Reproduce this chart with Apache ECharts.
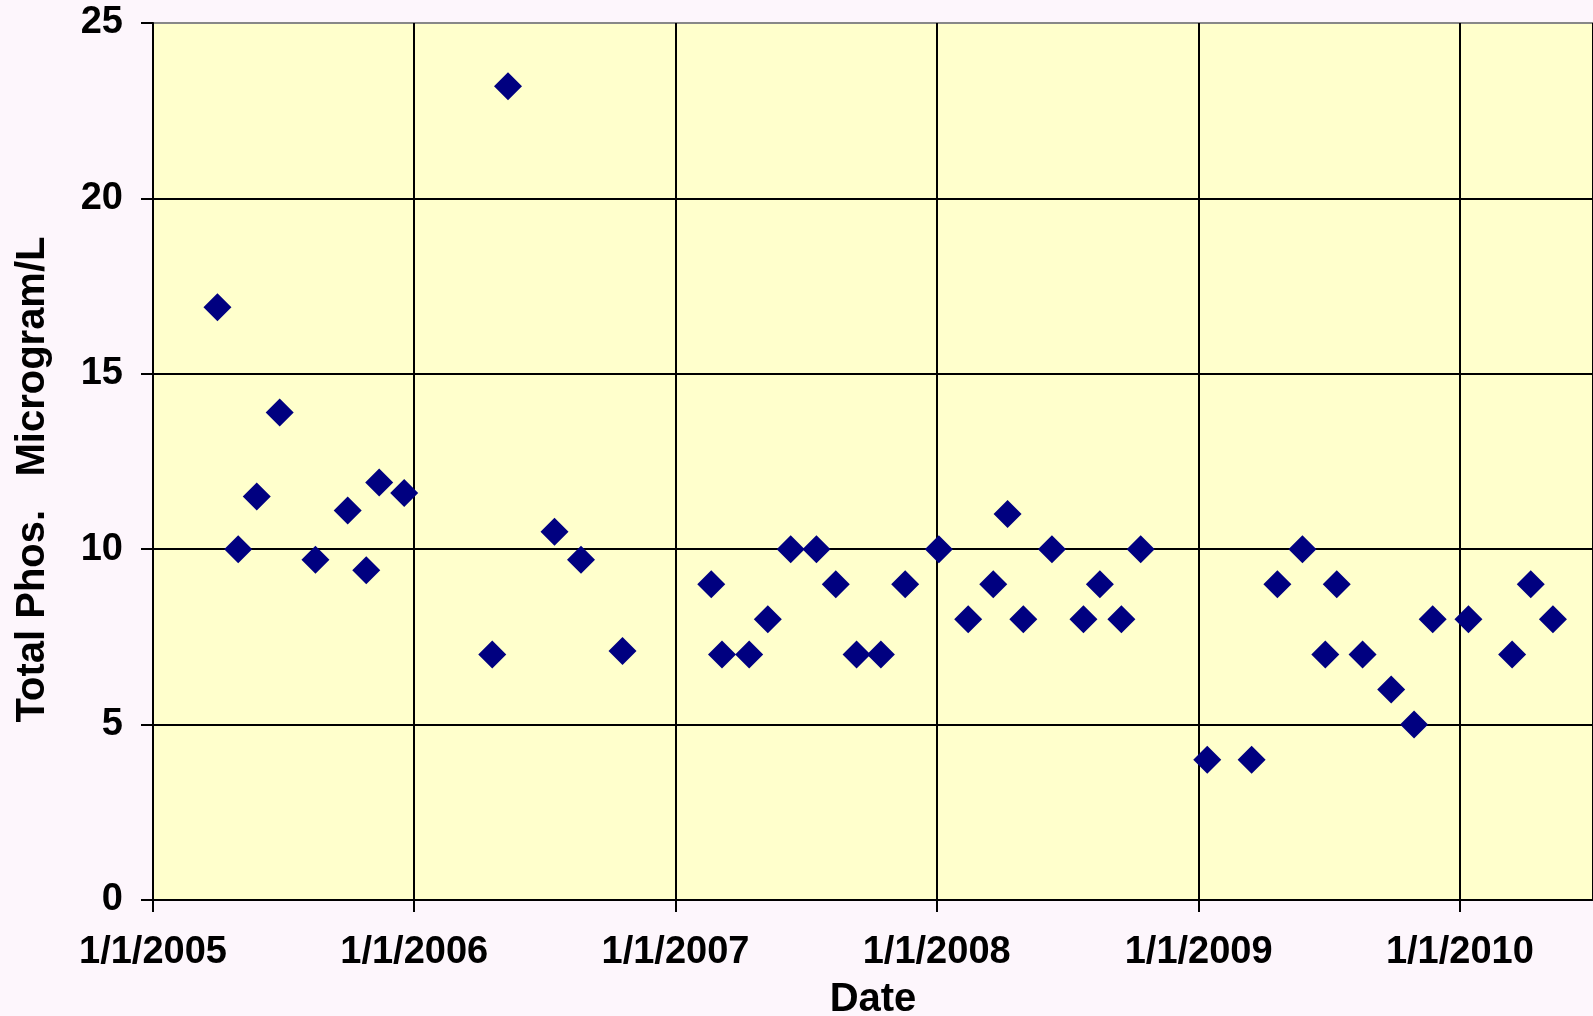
<!DOCTYPE html>
<html>
<head>
<meta charset="utf-8">
<title>Total Phos.</title>
<script src="https://cdn.jsdelivr.net/npm/echarts@6/dist/echarts.min.js"></script>
<style>
  html, body { margin: 0; padding: 0; background: #fdf6fc; }
  #chart { width: 1593px; height: 1016px; }
</style>
</head>
<body>
<div id="chart"></div>
<script>
// sample dates and total phosphorus (microgram/L)
const dates = [
  '2005-04-01', '2005-04-30', '2005-05-26', '2005-06-27', '2005-08-16', '2005-09-30',
  '2005-10-26', '2005-11-13', '2005-12-18',
  '2006-04-20', '2006-05-12', '2006-07-16', '2006-08-22', '2006-10-19',
  '2007-02-20', '2007-03-07', '2007-04-14', '2007-05-10', '2007-06-11', '2007-07-17',
  '2007-08-13', '2007-09-11', '2007-10-15', '2007-11-18',
  '2008-01-04', '2008-02-14', '2008-03-20', '2008-04-09', '2008-05-01', '2008-06-10',
  '2008-07-24', '2008-08-16', '2008-09-15', '2008-10-12',
  '2009-01-13', '2009-03-16', '2009-04-21', '2009-05-26', '2009-06-27', '2009-07-13',
  '2009-08-18', '2009-09-27', '2009-10-29', '2009-11-24',
  '2010-01-13', '2010-03-15', '2010-04-10', '2010-05-11'
]
const totalPhos = [
  16.9, 10.0, 11.5, 13.9, 9.7, 11.1,
  9.4, 11.9, 11.6,
  7.0, 23.2, 10.5, 9.7, 7.1,
  9, 7, 7, 8, 10, 10,
  9, 7, 7, 9,
  10, 8, 9, 11.0, 8, 10,
  8, 9, 8, 10,
  4, 4, 9, 10, 7, 9,
  7, 6, 5, 8,
  8, 7, 9, 8
]
const xMin = '2005-01-01'
const xMax = '2010-07-06'
const yTicks = [0, 5, 10, 15, 20, 25]

const YEAR = 365 * 24 * 3600 * 1000
const font = '"Liberation Sans", Arial, sans-serif'

const chart = echarts.init(document.getElementById('chart'), null, { renderer: 'canvas' })

chart.setOption({
  backgroundColor: '#fdf6fc',
  animation: false,
  grid: {
    left: 153, right: 0, top: 23, bottom: 116,
    outerBoundsMode: 'none',
    containLabel: false,
    show: true, backgroundColor: '#ffffcc', borderWidth: 0
  },
  xAxis: {
    type: 'time',
    min: xMin,
    max: xMax,
    minInterval: YEAR * 0.99,
    maxInterval: YEAR * 1.01,
    name: 'Date',
    nameLocation: 'middle',
    nameGap: 80,
    nameTextStyle: { fontFamily: font, fontWeight: 'bold', fontSize: 40, color: '#000' },
    axisLine: { lineStyle: { color: '#000', width: 2 } },
    axisTick: { show: true, length: 12, lineStyle: { color: '#000', width: 2 } },
    axisLabel: {
      formatter: '{M}/{d}/{yyyy}',
      margin: 34,
      fontFamily: font, fontWeight: 'bold', fontSize: 38, color: '#000',
      showMaxLabel: false
    },
    splitLine: { show: true, lineStyle: { color: '#000', width: 2 } }
  },
  yAxis: {
    type: 'value',
    min: yTicks[0],
    max: yTicks[yTicks.length - 1],
    interval: 5,
    name: 'Total Phos.   Microgram/L',
    nameLocation: 'middle',
    nameGap: 100,
    nameTextStyle: {
      fontFamily: font, fontWeight: 'bold', fontSize: 40, color: '#000',
      padding: [0, 36, 0, 0]
    },
    axisLine: { show: true, lineStyle: { color: '#000', width: 2 } },
    axisTick: { show: true, length: 12, lineStyle: { color: '#000', width: 2 } },
    axisLabel: {
      margin: 30,
      fontFamily: font, fontWeight: 'bold', fontSize: 38, color: '#000'
    },
    splitLine: {
      show: true,
      lineStyle: { color: ['#000', '#000', '#000', '#000', '#000', '#888'], width: 2 }
    }
  },
  series: [{
    type: 'scatter',
    symbol: 'diamond',
    symbolSize: 28,
    itemStyle: { color: '#000080', opacity: 1 },
    data: dates.map((d, i) => [d, totalPhos[i]])
  }]
})
</script>
</body>
</html>
